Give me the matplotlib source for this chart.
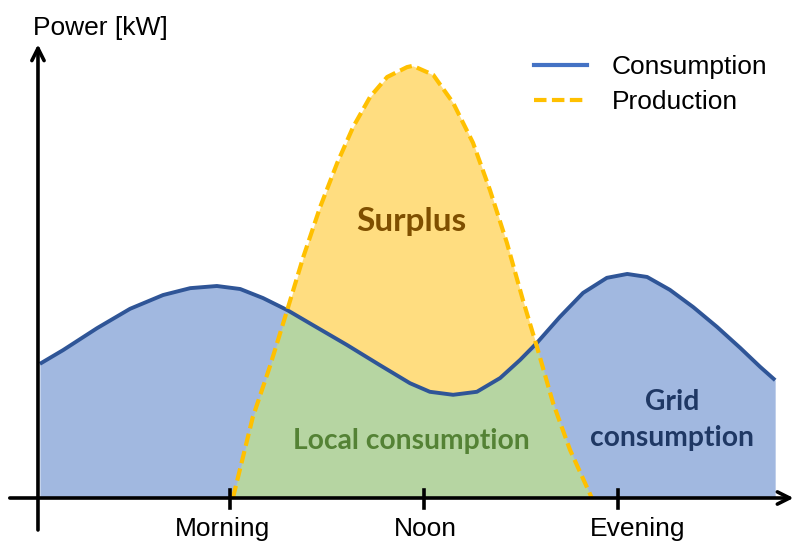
"""Concept sketch: household consumption vs. PV production over one day."""

import numpy as np
import matplotlib
matplotlib.use("Agg")
import matplotlib.pyplot as plt
from matplotlib.lines import Line2D

# --- data (hours of day, kW) ---
cons_hour = [4.08, 4.56, 5.26, 5.94, 6.62, 7.18, 7.73, 8.21, 8.68, 9.18, 9.71,
             10.41, 11.09, 11.71, 12.12, 12.60, 13.09, 13.57, 13.98, 14.33, 14.80,
             15.28, 15.77, 16.19, 16.60, 17.07, 17.55, 18.04, 18.52, 18.93, 19.24]
cons_kw = [3.12, 3.44, 3.95, 4.40, 4.72, 4.88, 4.93, 4.86, 4.65, 4.37, 4.02,
           3.56, 3.09, 2.67, 2.47, 2.40, 2.47, 2.79, 3.21, 3.61, 4.21,
           4.77, 5.12, 5.21, 5.14, 4.84, 4.44, 3.98, 3.49, 3.05, 2.74]

prod_hour = [8.06, 8.47, 8.82, 9.18, 9.51, 9.86, 10.21, 10.54, 10.89, 11.24, 11.65,
             11.77, 12.19, 12.60, 13.01, 13.36, 13.71, 14.04, 14.33, 14.66, 15.01,
             15.46]
prod_kw = [0.00, 1.88, 3.05, 4.37, 5.60, 6.77, 7.79, 8.63, 9.33, 9.79, 10.02,
           10.05, 9.84, 9.19, 8.26, 7.16, 5.93, 4.60, 3.51, 2.21, 1.12,
           0.00]

tick_hours = [8, 12, 16]
tick_labels = ["Morning", "Noon", "Evening"]
label_hours = [7.84, 12.02, 16.41]

# colours
C_LINE = "#2F5597"
C_LEG = "#4472C4"
C_PROD = "#FFC000"
C_BLUE = "#A1B8E0"
C_YELLOW = "#FFDD80"
C_GREEN = "#B6D5A2"

plt.rcParams["font.family"] = ["Liberation Sans", "DejaVu Sans"]

fig = plt.figure(figsize=(7.95, 5.43), dpi=100)
ax = fig.add_axes([0, 0, 1, 1])
ax.set_xlim(3.258, 19.649)
ax.set_ylim(-1.0465, 11.581)
ax.axis("off")

# common grid built from the read points of both curves
grid = np.union1d(cons_hour, prod_hour)
c = np.interp(grid, cons_hour, cons_kw)
p = np.interp(grid, prod_hour, prod_kw, left=np.nan, right=np.nan)
inside = ~np.isnan(p)
p0 = np.where(inside, p, 0.0)

ax.fill_between(cons_hour, 0, cons_kw, color=C_BLUE, lw=0, zorder=1)
ax.fill_between(grid, 0, np.minimum(c, p0), where=inside, color=C_GREEN,
                lw=0, zorder=2, interpolate=True)
ax.fill_between(grid, c, p0, where=inside & (p0 >= c), color=C_YELLOW,
                lw=0, zorder=2, interpolate=True)

ax.plot(cons_hour, cons_kw, color=C_LINE, lw=2.8, zorder=4,
        solid_capstyle="butt", solid_joinstyle="round")
ax.plot(prod_hour, prod_kw, color=C_PROD, lw=3.0, ls=(0, (3, 1.3)), zorder=5)

# hand-drawn style axes with open arrow heads
arrow = dict(arrowstyle="->", lw=2.6, color="black", mutation_scale=22,
             shrinkA=0, shrinkB=0)
ax.annotate("", xy=(4.041, 10.55), xytext=(4.041, -0.744), arrowprops=arrow,
            zorder=6)
ax.annotate("", xy=(19.62, 0), xytext=(3.46, 0), arrowprops=arrow, zorder=6)
for h in tick_hours:
    ax.plot([h, h], [-0.23, 0.19], color="black", lw=2.6, zorder=6)
for h, lab in zip(label_hours, tick_labels):
    ax.text(h, -0.72, lab, ha="center", va="center", fontsize=19)

ax.text(3.938, 10.93, "Power [kW]", ha="left", va="center", fontsize=19)

# region labels
bold = dict(family=["Lato", "DejaVu Sans"], fontweight="bold", ha="center",
            va="center")
ax.text(11.74, 6.42, "Surplus", color="#7F4F00", fontsize=24, **bold)
ax.text(11.73, 1.33, "Local consumption", color="#548235", fontsize=20.3, **bold)
ax.text(17.11, 2.24, "Grid", color="#1F3864", fontsize=20.3, **bold)
ax.text(17.11, 1.40, "consumption", color="#1F3864", fontsize=20.3, **bold)

handles = [Line2D([], [], color=C_LEG, lw=3.0),
           Line2D([], [], color=C_PROD, lw=3.0, ls=(0, (3, 1.3)))]
ax.legend(handles, ["Consumption", "Production"], loc="upper left",
          bbox_to_anchor=(0.672, 0.898), frameon=False, fontsize=19,
          handlelength=2.0, handletextpad=0.95, labelspacing=0.42,
          borderpad=0, borderaxespad=0)

fig.savefig("out.png", dpi=100)
